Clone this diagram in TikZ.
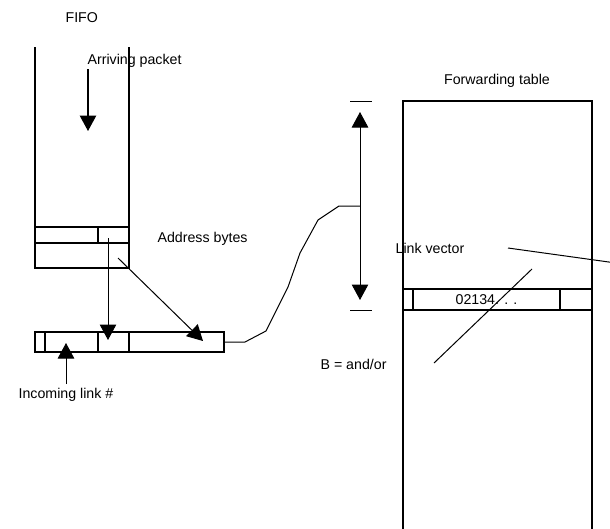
\documentclass[tikz,border=0pt]{standalone}
\usepackage{fontspec}
\setmainfont{Liberation Sans}
\usetikzlibrary{arrows.meta}
\begin{document}
\begin{tikzpicture}[x=1pt,y=-1pt, line width=1.2pt, line join=miter,
  lbl/.style={font=\fontsize{14.2}{16}\selectfont, inner sep=0pt, anchor=base west},
  arr/.style={-{Triangle[width=16.5pt,length=15.5pt]}},
  darr/.style={{Triangle[width=16.5pt,length=15.5pt]}-{Triangle[width=16.5pt,length=15.5pt]}},
  thin line/.style={line width=1pt}]
\clip (0,0) rectangle (610,528);
% FIFO
\node[lbl] (fifo) at (65,22) {FIFO};
\draw (35,47) -- (35,268) -- (129,268) -- (129,47);
\draw (35,227) -- (129,227);
\draw (35,243) -- (129,243);
\draw (98,227) -- (98,243);
\node[lbl] (arriving) at (87,64) {Arriving packet};
\coordinate (a1s) at (88,69);
\coordinate (a1e) at (88,131);
\draw[arr] (a1s) -- (a1e);
% address bytes
\node[lbl] (addr) at (157,242) {Address bytes};
% lower bar
\draw (35,332) rectangle (224,352);
\draw (45,332) -- (45,352);
\draw (98,332) -- (98,352);
\draw (129,332) -- (129,352);
\coordinate (a2s) at (108,238);
\coordinate (a2e) at (108,340);
\draw[arr,thin line] (a2s) -- (a2e);
\coordinate (a3s) at (118,258);
\coordinate (a3e) at (203,341);
\draw[arr,thin line] (a3s) -- (a3e);
\node[lbl] (incoming) at (18,398) {Incoming link \#};
\coordinate (a4s) at (66,384);
\coordinate (a4e) at (66,343);
\draw[arr,thin line] (a4s) -- (a4e);
% connector to range
\coordinate (barR) at (224,342);
\coordinate (mid) at (360,206);
\draw[thin line] (barR) -- (245,342) -- (266,331) -- (288,287) -- (300,253) -- (318,220) -- (339,206) -- (mid);
% double arrow range
\coordinate (rt) at (360,112);
\coordinate (rb) at (360,300);
\draw[darr,thin line] (rt) -- (rb);
\draw[thin line] (350,101) -- (372,101);
\draw[thin line] (350,310) -- (372,310);
% forwarding table
\node[lbl,anchor=base] (fwd) at (497,84) {Forwarding table};
\draw (403,540) -- (403,101) -- (592,101) -- (592,540);
\draw (403,289) -- (592,289);
\draw (403,310) -- (592,310);
\draw (413,289) -- (413,310);
\draw (560,289) -- (560,310);
\node[lbl] (vec) at (455,304) {02134. . .};
\node[lbl] (link) at (395,253) {Link vector};
\coordinate (l1) at (508,248);
\coordinate (l2) at (616,263);
\draw[thin line] (l1) -- (l2);
\coordinate (d1) at (532,269);
\coordinate (d2) at (434,363);
\draw[thin line] (d1) -- (d2);
\node[lbl] (band) at (320,369) {B = and/or};
\end{tikzpicture}
\end{document}
